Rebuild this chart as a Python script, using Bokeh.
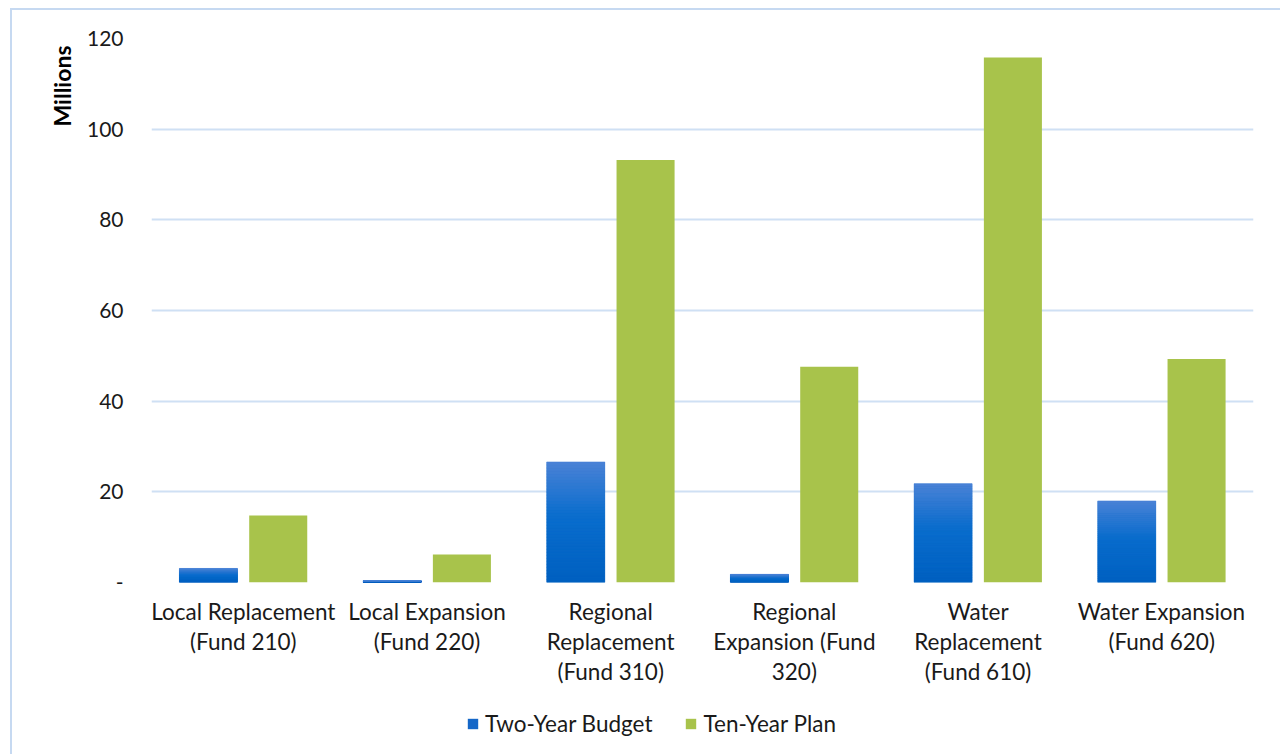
from bokeh.plotting import figure
from bokeh.layouts import column
from bokeh.models import (FactorRange, Range1d, FixedTicker, Legend, LegendItem,
                          Title)
from bokeh.transform import dodge
from bokeh.embed import file_html
from bokeh.resources import INLINE

categories = [
    "Local Replacement\n(Fund 210)",
    "Local Expansion\n(Fund 220)",
    "Regional\nReplacement\n(Fund 310)",
    "Regional\nExpansion (Fund\n320)",
    "Water\nReplacement\n(Fund 610)",
    "Water Expansion\n(Fund 620)",
]
two_year_budget = [3.1, 0.4, 26.6, 1.8, 21.8, 18.0]
ten_year_plan = [14.8, 6.2, 93.2, 47.6, 115.8, 49.3]
y_ticks = [0, 20, 40, 60, 80, 100, 120]
series_names = ["Two-Year Budget", "Ten-Year Plan"]

FONT = "Lato"
BLUE = "#0a68c8"
GREEN = "#a8c34b"
GRID = "#cfe0f4"
BORDER = "#c6d9f1"

OX, OY = 12, 10          # canvas offset produced by the outer border
TOTAL_W = 1280 - OX
TOTAL_H = 754 - OY
MAIN_BOTTOM = 110
FRAME_H = 544
FRAME_LEFT = 151

p = figure(frame_width=1102, frame_height=FRAME_H, x_range=FactorRange(factors=categories),
           y_range=Range1d(0, 120), output_backend="svg", toolbar_location=None,
           min_border_left=FRAME_LEFT - OX, min_border_right=27, min_border_top=38 - OY,
           min_border_bottom=MAIN_BOTTOM)
p.outline_line_color = None
p.background_fill_color = "white"
p.border_fill_color = "white"

p.vbar(x=dodge("x", -0.19, range=p.x_range), top="top", width=0.316,
       source=dict(x=categories, top=two_year_budget),
       fill_color=BLUE, line_color=None)

def hx(c):
    return tuple(int(c[i:i + 2], 16) for i in (1, 3, 5))

def mix(a, b, t):
    a, b = hx(a), hx(b)
    return "#%02x%02x%02x" % tuple(round(a[i] + (b[i] - a[i]) * t) for i in range(3))

# vertical gradient overlay of the blue bars, sliced from the data values
N = 40
gx, gb, gt, gc = [], [], [], []
for cat, v in zip(categories, two_year_budget):
    for k in range(N):
        t = (k + 0.5) / N
        if t < 0.55:
            col = mix("#0060c0", "#0a6dcd", t / 0.55)
        else:
            col = mix("#0a6dcd", "#4a82d6", (t - 0.55) / 0.45)
        gx.append(cat)
        gb.append(v * k / N)
        gt.append(v * (k + 1) / N)
        gc.append(col)
p.vbar(x=dodge("x", -0.19, range=p.x_range), bottom="b", top="t", width=0.316,
       source=dict(x=gx, b=gb, t=gt, c=gc), fill_color="c", line_color="c",
       line_width=0.5)

p.vbar(x=dodge("x", 0.19, range=p.x_range), top="top", width=0.316,
       source=dict(x=categories, top=ten_year_plan),
       fill_color=GREEN, line_color=None)

p.xgrid.grid_line_color = None
p.ygrid.grid_line_color = GRID
p.ygrid.grid_line_width = 2
p.ygrid.level = "underlay"

p.yaxis.ticker = FixedTicker(ticks=y_ticks)
p.yaxis.major_label_overrides = {0: "-"}
for ax in (p.xaxis, p.yaxis):
    ax.axis_line_color = None
    ax.major_tick_line_color = None
    ax.minor_tick_line_color = None
    ax.major_label_text_font = FONT
    ax.major_label_text_color = "#1a1a1a"
p.yaxis.major_label_text_font_size = "21px"
p.xaxis.major_label_text_font_size = "22.5px"
p.yaxis.major_label_standoff = 22
p.xaxis.major_label_standoff = 9
p.xaxis.major_label_text_line_height = 1.12

p.add_layout(Title(text="Millions", align="right", text_font=FONT,
                   text_font_style="bold", text_font_size="23px",
                   text_color="#000000", offset=7, standoff=16), "left")

# legend strip below the chart (zero-width bars of the same series feed the swatches)
LEG_H = TOTAL_H - (38 - OY) - FRAME_H - MAIN_BOTTOM
lg = figure(width=TOTAL_W, height=LEG_H, x_range=FactorRange(factors=categories),
            y_range=Range1d(0, 120), output_backend="svg", toolbar_location=None,
            min_border_left=0, min_border_right=0, min_border_top=0, min_border_bottom=0)
lg.axis.visible = False
lg.grid.visible = False
lg.outline_line_color = None
lg.background_fill_color = "white"
lg.border_fill_color = "white"
sw_blue = lg.vbar(x=categories, top=two_year_budget, width=0,
                  fill_color="#1467c8", line_color=None)
sw_green = lg.vbar(x=categories, top=ten_year_plan, width=0,
                   fill_color=GREEN, line_color=None)
legend = Legend(items=[LegendItem(label=series_names[0], renderers=[sw_blue]),
                       LegendItem(label=series_names[1], renderers=[sw_green])],
                orientation="horizontal", location=(466 - FRAME_LEFT, 17),
                label_text_font=FONT, label_text_font_size="22.5px",
                label_text_color="#1a1a1a",
                glyph_width=13, glyph_height=13, label_standoff=6, spacing=32,
                border_line_color=None, background_fill_alpha=0, margin=0,
                padding=0)
lg.add_layout(legend)

layout = column(p, lg, spacing=0,
                styles={"margin-left": "10px", "margin-top": "8px",
                        "border-left": "2px solid " + BORDER,
                        "border-top": "2px solid " + BORDER})

open("out.html", "w").write(file_html(layout, INLINE))
